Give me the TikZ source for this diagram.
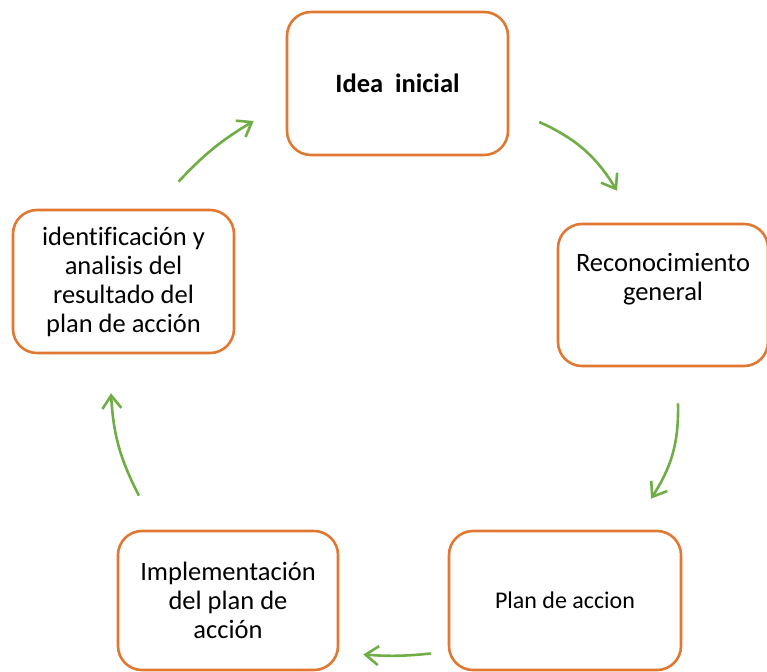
\documentclass[tikz,border=0pt]{standalone}
\usepackage{fontspec}
\setmainfont{Carlito}[Ligatures=NoCommon]
\usepackage{xcolor}
\usetikzlibrary{arrows.meta}

\definecolor{stageorange}{RGB}{224,120,50}
\definecolor{flowgreen}{RGB}{112,173,71}

\begin{document}
\begin{tikzpicture}[x=1pt, y=-1pt,
    stage/.style={rectangle, draw=stageorange, line width=2.6pt, rounded corners=24pt,
        align=center, font=\fontsize{26.5}{29}\selectfont},
    flow/.style={draw=flowgreen, line width=2.6pt, -{Straight Barb[length=13pt, width=19pt]}}]
    \useasboundingbox (0,0) rectangle (767,671);

    \node[stage, minimum width=221pt, minimum height=143pt] (idea) at (397.5,83.5) {\textbf{Idea~ inicial}};

    \node[stage, minimum width=210pt, minimum height=142pt, text depth=36pt] (recon) at (663,295) {
        Reconocimiento\\
        general
    };

    \node[stage, minimum width=232pt, minimum height=139pt, font=\fontsize{24}{29}\selectfont] (plan) at (565,600.5) {Plan de accion};

    \node[stage, minimum width=220pt, minimum height=139pt] (impl) at (228,600.5) {
        Implementación\\
        del plan de\\
        acción
    };

    \node[stage, minimum width=221pt, minimum height=143pt] (ident) at (123.5,281.5) {
        identificación y\\
        analisis del\\
        resultado del\\
        plan de acción
    };

    \draw[flow] ([shift={(30,38.5)}]idea.east) to[bend left=17] ([shift={(-46,-32)}]recon.north);
    \draw[flow] ([shift={(15,36)}]recon.south) to[bend left=17] ([shift={(86,-31)}]plan.north);
    \draw[flow] ([shift={(-17,53)}]plan.west) to[bend left=5] ([shift={(24,54)}]impl.east);
    \draw[flow] ([shift={(-89,-34)}]impl.north) to[bend left=12] ([shift={(-12.5,39)}]ident.south);
    \draw[flow] ([shift={(55,-27)}]ident.north) to[bend left=8] ([shift={(-32,37.5)}]idea.west);

\end{tikzpicture}
\end{document}
